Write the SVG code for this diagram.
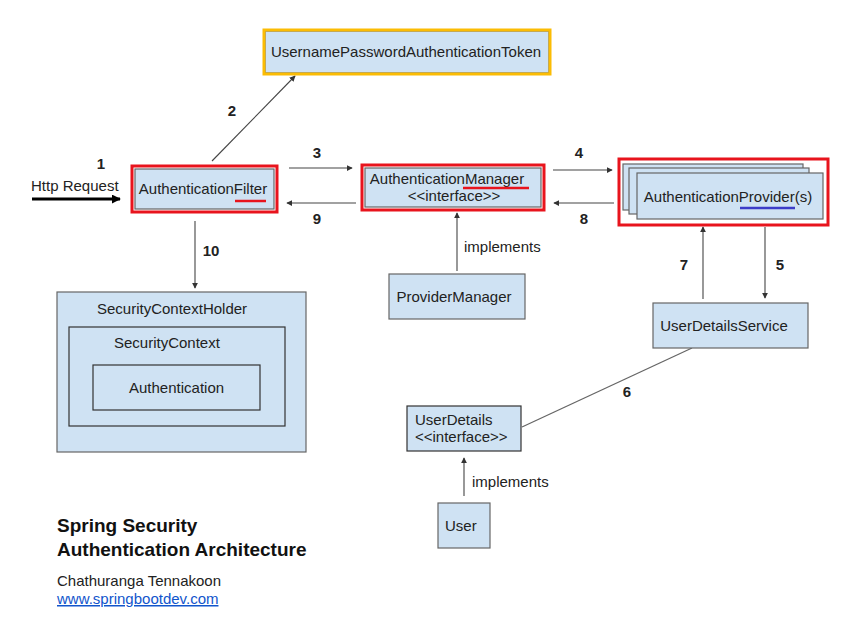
<svg xmlns="http://www.w3.org/2000/svg" width="847" height="644" viewBox="0 0 847 644">
<defs>
<style>
text{font-family:"Liberation Sans",Arial,sans-serif;fill:#222;font-size:15px}
.num{font-weight:bold;font-size:15px;text-anchor:middle}
.mid{text-anchor:middle}
.ttl{font-weight:bold;font-size:19px;fill:#111}
.box{fill:#cfe2f3;stroke:#666;stroke-width:1.2}
.inner{fill:#cfe2f3;stroke:#333;stroke-width:1.2}
.red{fill:none;stroke:#e8141d;stroke-width:3}
.yel{fill:none;stroke:#fbbc04;stroke-width:3}
.con{stroke:#444;stroke-width:1.1;fill:none;marker-end:url(#ah)}
.plain{stroke:#666;stroke-width:1.3;fill:none}
</style>
<marker id="ah" viewBox="0 0 8 8" refX="7" refY="4" markerWidth="6" markerHeight="6" markerUnits="userSpaceOnUse" orient="auto">
<path d="M0,0 L8,4 L0,8 z" fill="#333"/>
</marker>
<marker id="big" viewBox="0 0 10 10" refX="9" refY="5" markerWidth="9" markerHeight="9" markerUnits="userSpaceOnUse" orient="auto">
<path d="M0,0 L10,5 L0,10 z" fill="#000"/>
</marker>
</defs>
<rect width="847" height="644" fill="#fff"/>

<g id="connectors">
<line x1="32" y1="199" x2="120" y2="199" stroke="#000" stroke-width="3" marker-end="url(#big)"/>
<line class="con" x1="212" y1="161" x2="295" y2="76"/>
<line class="con" x1="289" y1="168" x2="352" y2="168"/>
<line class="con" x1="356" y1="203" x2="287" y2="203"/>
<line class="con" x1="553" y1="170" x2="612" y2="170"/>
<line class="con" x1="614" y1="203" x2="554" y2="203"/>
<line class="con" x1="765" y1="227" x2="765" y2="298"/>
<line class="con" x1="703" y1="299" x2="703" y2="227"/>
<line class="plain" x1="692" y1="348" x2="522" y2="427"/>
<line class="con" x1="195" y1="221" x2="195" y2="288"/>
<line class="con" x1="457" y1="271" x2="457" y2="213"/>
<line class="con" x1="464" y1="496" x2="464" y2="458"/>
</g>

<g id="labels">
<text x="31" y="191">Http Request</text>
<text class="num" x="101" y="169">1</text>
<text class="num" x="232" y="116">2</text>
<text class="num" x="317" y="158">3</text>
<text class="num" x="317" y="224">9</text>
<text class="num" x="579" y="158">4</text>
<text class="num" x="584" y="224">8</text>
<text class="num" x="684" y="270">7</text>
<text class="num" x="780" y="270">5</text>
<text class="num" x="211" y="256">10</text>
<text class="num" x="627" y="397">6</text>
<text x="464" y="252">implements</text>
<text x="472" y="487">implements</text>
</g>

<g id="token">
<rect class="box" x="265" y="31" width="284" height="42" stroke="none"/>
<rect class="yel" x="264" y="30" width="286" height="44"/>
<text class="mid" x="406" y="57">UsernamePasswordAuthenticationToken</text>
</g>

<g id="authFilter">
<rect class="box" x="135" y="169" width="139" height="40"/>
<rect class="red" x="132" y="166" width="145" height="46"/>
<text class="mid" x="203" y="194">AuthenticationFilter</text>
<line x1="235" y1="201" x2="266" y2="201" stroke="#e8141d" stroke-width="2.5"/>
</g>

<g id="authManager">
<rect class="box" x="365" y="168" width="176" height="39"/>
<rect class="red" x="362" y="165" width="182" height="45"/>
<text class="mid" x="447" y="184">AuthenticationManager</text>
<text class="mid" x="454" y="201">&lt;&lt;interface&gt;&gt;</text>
<line x1="463" y1="188" x2="529" y2="188" stroke="#e8141d" stroke-width="2.5"/>
</g>

<g id="authProvider">
<rect class="box" x="623" y="164" width="180" height="46"/>
<rect class="box" x="629" y="168" width="180" height="46"/>
<rect class="box" x="637" y="173" width="186" height="46"/>
<rect class="red" x="619" y="159" width="209" height="66"/>
<text class="mid" x="728" y="202">AuthenticationProvider(s)</text>
<line x1="740" y1="208" x2="795" y2="208" stroke="#3c3cc8" stroke-width="2.5"/>
</g>

<g id="providerManager">
<rect class="box" x="389" y="274" width="136" height="45"/>
<text class="mid" x="454" y="302">ProviderManager</text>
</g>

<g id="userDetailsService">
<rect class="box" x="653" y="303" width="155" height="45"/>
<text class="mid" x="724" y="331">UserDetailsService</text>
</g>

<g id="userDetails">
<rect class="inner" x="407" y="406" width="114" height="45"/>
<text x="415" y="425">UserDetails</text>
<text x="415" y="442">&lt;&lt;interface&gt;&gt;</text>
</g>

<g id="user">
<rect class="box" x="438" y="503" width="52" height="45"/>
<text x="445" y="531">User</text>
</g>

<g id="securityContextHolder">
<rect class="box" x="57" y="292" width="249" height="160"/>
<text x="97" y="314">SecurityContextHolder</text>
<g id="securityContext">
<rect class="inner" x="69" y="327" width="216" height="99" stroke="#555"/>
<text x="114" y="348">SecurityContext</text>
<g id="authentication">
<rect class="inner" x="93" y="365" width="167" height="45"/>
<text x="129" y="393">Authentication</text>
</g>
</g>
</g>

<g id="title">
<text class="ttl" x="57" y="532">Spring Security</text>
<text class="ttl" x="57" y="556">Authentication Architecture</text>
<text x="57" y="586">Chathuranga Tennakoon</text>
<text x="57" y="604" style="fill:#1155cc" text-decoration="underline">www.springbootdev.com</text>
</g>
</svg>
